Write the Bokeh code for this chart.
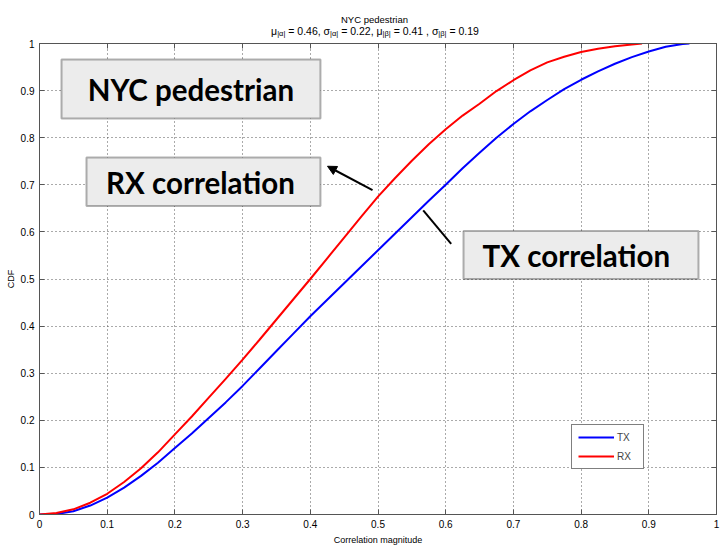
import numpy as np
from bokeh.plotting import figure
from bokeh.layouts import column
from bokeh.models import (Range1d, FixedTicker, LinearAxis, Label, BoxAnnotation,
                          Arrow, NormalHead, Legend, LegendItem)
from bokeh.core.properties import value
from bokeh.embed import file_html
from bokeh.resources import INLINE

# ---------------- data ----------------
tx_x = [0.0, 0.025, 0.05, 0.075, 0.1, 0.125, 0.15, 0.175, 0.2, 0.225, 0.25, 0.275, 0.3,
        0.325, 0.35, 0.375, 0.4, 0.425, 0.45, 0.475, 0.5, 0.525, 0.55, 0.575, 0.6,
        0.625, 0.65, 0.675, 0.7, 0.725, 0.75, 0.775, 0.8, 0.825, 0.85, 0.875, 0.9,
        0.925, 0.95, 0.96]
tx_cdf = [0.0, 0.001, 0.007, 0.019, 0.036, 0.057, 0.082, 0.110, 0.141, 0.172, 0.205,
          0.238, 0.273, 0.310, 0.347, 0.384, 0.421, 0.456, 0.491, 0.526, 0.561, 0.596,
          0.631, 0.666, 0.700, 0.735, 0.768, 0.800, 0.829, 0.856, 0.880, 0.903, 0.923,
          0.941, 0.957, 0.971, 0.983, 0.993, 0.999, 1.0]

rx_x = [0.0, 0.025, 0.05, 0.075, 0.1, 0.125, 0.15, 0.175, 0.2, 0.225, 0.25, 0.275, 0.3,
        0.325, 0.35, 0.375, 0.4, 0.425, 0.45, 0.475, 0.5, 0.525, 0.55, 0.575, 0.6,
        0.625, 0.65, 0.675, 0.7, 0.725, 0.75, 0.775, 0.8, 0.825, 0.85, 0.875, 0.89]
rx_cdf = [0.0, 0.003, 0.011, 0.025, 0.044, 0.069, 0.098, 0.132, 0.170, 0.208, 0.248,
          0.288, 0.329, 0.371, 0.414, 0.457, 0.500, 0.544, 0.588, 0.632, 0.675, 0.714,
          0.751, 0.786, 0.818, 0.847, 0.872, 0.899, 0.922, 0.943, 0.960, 0.972, 0.982,
          0.989, 0.994, 0.998, 1.0]

tick_values = [0.0, 0.1, 0.2, 0.3, 0.4, 0.5, 0.6, 0.7, 0.8, 0.9, 1.0]
tick_labels = ["0", "0.1", "0.2", "0.3", "0.4", "0.5", "0.6", "0.7", "0.8", "0.9", "1"]

title_text = "NYC pedestrian"
stat_names = ["\u03bc", "\u03c3", "\u03bc", "\u03c3"]
stat_subs = ["|\u03b1|", "|\u03b1|", "|\u03b2|", "|\u03b2|"]
stat_values = ["= 0.46,", "= 0.22,", "= 0.41 ,", "= 0.19"]
x_label = "Correlation magnitude"
y_label = "CDF"

FONT = "'Liberation Sans', Arial, sans-serif"
BOX_FONT = "Lato"
AX_COLOR = "#555555"
TITLE_H = 38
FRAME_L, FRAME_R = 39, 716

# approximate Arial / Liberation Sans advance widths (em) for laying out the title line
EM = {" ": 0.278, "=": 0.584, ".": 0.278, ",": 0.278, "|": 0.26,
      "\u03bc": 0.576, "\u03c3": 0.61, "\u03b1": 0.578, "\u03b2": 0.575}
def text_w(s, size):
    return sum(EM.get(c, 0.556) for c in s) * size

MAIN_PX, SUB_PX = 10.5, 7.5

# ---------------- title strip (pixel coordinates, y downwards) ----------------
tf = figure(width=720, height=TITLE_H, output_backend="svg", toolbar_location=None,
            x_range=Range1d(FRAME_L, FRAME_R), y_range=Range1d(TITLE_H, 0),
            x_axis_type=None, y_axis_type=None, min_border=0)
tf.outline_line_color = None
tf.grid.visible = False
tf.background_fill_color = "white"
tf.border_fill_color = "white"

tf.text(x=[374], y=[18.7], text=[title_text], text_align="center",
        text_baseline="alphabetic", text_font=value(FONT), text_font_size="9.5px",
        text_color="black")

# lay the second title line out left to right: name, subscript, value
space = text_w(" ", MAIN_PX)
total = 0.0
for i in range(4):
    total += text_w(stat_names[i], MAIN_PX) + text_w(stat_subs[i], SUB_PX) + space
    total += text_w(stat_values[i], MAIN_PX) + (space if i < 3 else 0)
cur = 374.5 - total / 2
main_x, main_t, sub_x = [], [], []
for i in range(4):
    main_x.append(cur); main_t.append(stat_names[i])
    cur += text_w(stat_names[i], MAIN_PX)
    sub_x.append(cur)
    cur += text_w(stat_subs[i], SUB_PX) + space
    main_x.append(cur); main_t.append(stat_values[i])
    cur += text_w(stat_values[i], MAIN_PX) + space

tf.text(x=main_x, y=[30.3] * len(main_x), text=main_t, text_align="left",
        text_baseline="alphabetic", text_font=value(FONT),
        text_font_size=f"{MAIN_PX}px", text_color="black")
tf.text(x=sub_x, y=[32.7] * len(sub_x), text=stat_subs, text_align="left",
        text_baseline="alphabetic", text_font=value(FONT),
        text_font_size=f"{SUB_PX}px", text_color="black")

# ---------------- main plot ----------------
p = figure(width=720, height=549 - TITLE_H, output_backend="svg", toolbar_location=None,
           x_range=Range1d(0, 1), y_range=Range1d(0, 1),
           min_border_left=FRAME_L, min_border_right=720 - FRAME_R,
           min_border_top=43 - TITLE_H, min_border_bottom=35)
p.background_fill_color = "white"
p.border_fill_color = "white"
p.outline_line_color = AX_COLOR

labels_map = {v: s for v, s in zip(tick_values, tick_labels)}
for ax in (p.xaxis[0], p.yaxis[0]):
    ax.ticker = FixedTicker(ticks=tick_values)
    ax.major_label_overrides = labels_map
    ax.major_tick_in = 5
    ax.major_tick_out = 0
    ax.minor_tick_line_color = None
    ax.axis_line_color = AX_COLOR
    ax.major_tick_line_color = AX_COLOR
    ax.major_label_text_font = FONT
    ax.major_label_text_font_size = "10px"
    ax.major_label_text_color = "black"
    ax.major_label_standoff = 5
    ax.axis_label_text_font = FONT
    ax.axis_label_text_font_size = "9px"
    ax.axis_label_text_font_style = "normal"
    ax.axis_label_text_color = "black"
p.xaxis.axis_label = x_label
p.yaxis.axis_label = y_label
p.xaxis.axis_label_standoff = 4
p.yaxis.axis_label_standoff = 2

blank_map = {v: "" for v in tick_values}
for side in ("above", "right"):
    ax = LinearAxis(ticker=FixedTicker(ticks=tick_values), major_tick_in=5, major_tick_out=0,
                    axis_line_color=AX_COLOR, major_tick_line_color=AX_COLOR,
                    minor_tick_line_color=None, major_label_overrides=blank_map,
                    major_label_standoff=0, major_label_text_font_size="1px")
    p.add_layout(ax, side)

for g in (p.xgrid[0], p.ygrid[0]):
    g.ticker = FixedTicker(ticks=tick_values)
    g.grid_line_color = "#555555"
    g.grid_line_dash = "1 3"
    g.grid_line_width = 1

r_tx = p.line(tx_x, tx_cdf, line_color="#0000ff", line_width=2)
r_rx = p.line(rx_x, rx_cdf, line_color="#ff0000", line_width=2)

legend = Legend(items=[LegendItem(label="TX", renderers=[r_tx]),
                       LegendItem(label="RX", renderers=[r_rx])],
                location=(532, 45), glyph_width=36, glyph_height=12, label_height=12,
                spacing=7, padding=6, margin=0, label_standoff=3,
                label_text_font=FONT, label_text_font_size="10px",
                border_line_color="black", border_line_width=1,
                background_fill_color="white", background_fill_alpha=1)
p.add_layout(legend)

# ---------------- annotation boxes ----------------
boxes = [
    (0.0325, 0.415, 0.841, 0.966, 0.2236, 0.903, "NYC pedestrian"),
    (0.0694, 0.415, 0.655, 0.758, 0.2378, 0.7055, "RX correlation"),
    (0.6263, 0.9734, 0.500, 0.6017, 0.7930, 0.549, "TX correlation"),
]
for l, r, b, t, cx, cy, txt in boxes:
    p.add_layout(BoxAnnotation(left=l, right=r, bottom=b, top=t, fill_color="#ececec",
                               fill_alpha=1, line_color="black", line_width=2))
    p.add_layout(Label(x=cx, y=cy, text=txt, text_align="center", text_baseline="middle",
                       text_font=BOX_FONT, text_font_style="bold", text_font_size="29.5px",
                       text_color="black"))

p.add_layout(Arrow(x_start=0.4919, y_start=0.6886, x_end=0.4254, y_end=0.7394,
                   line_width=2, line_color="black",
                   end=NormalHead(size=9, fill_color="black", line_color="black")))
p.add_layout(Arrow(x_start=0.5668, y_start=0.6455, x_end=0.6081, y_end=0.5748,
                   line_width=2, line_color="black", end=None))

layout = column(tf, p, spacing=0)
open("out.html", "w").write(file_html(layout, INLINE))
